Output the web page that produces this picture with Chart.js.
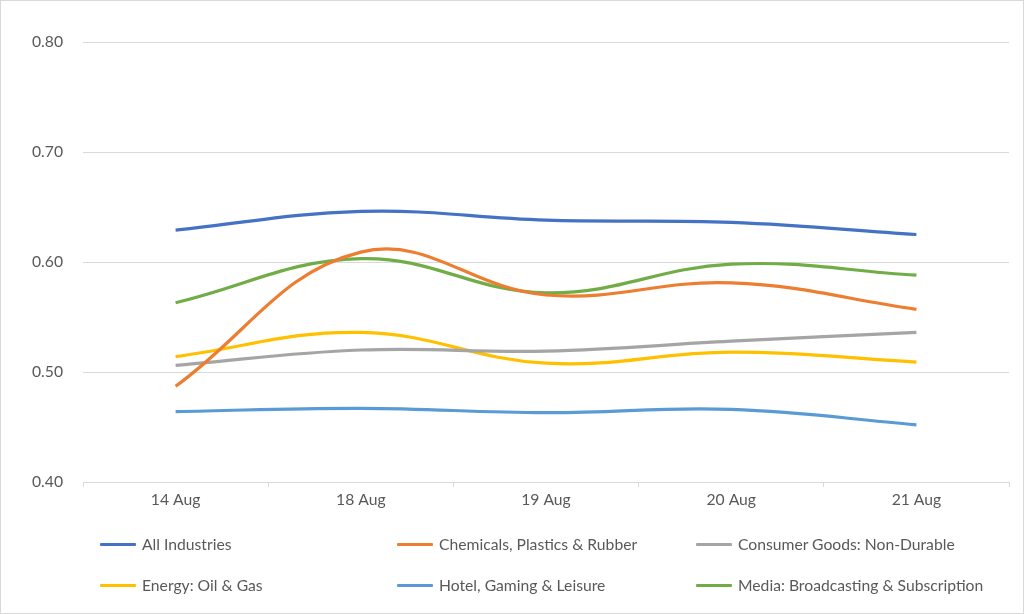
<!DOCTYPE html>
<html>
<head>
<meta charset="utf-8">
<script src="https://cdn.jsdelivr.net/npm/chart.js@4"></script>
<style>
  body { margin: 0; background: #fff; }
  #wrap { position: relative; width: 1022px; height: 612px; border: 1px solid #d9d9d9; font-family: Lato, sans-serif; }
  #box { position: absolute; left: 0; top: 0; width: 1022px; height: 520px; }
  #legend { position: absolute; left: 0; top: 0; width: 1022px; height: 612px; pointer-events: none; }
  .item { position: absolute; display: flex; align-items: center; font-size: 15.7px; color: #595959; white-space: nowrap; transform: translateY(-50%); }
  .item span.mark { display: inline-block; width: 36px; height: 3px; margin-right: 6px; border-radius: 1px; }
</style>
</head>
<body>
<div id="wrap">
  <div id="box"><canvas id="myChart"></canvas></div>
  <div id="legend"></div>
</div>
<script>
    var labels = ['14 Aug', '18 Aug', '19 Aug', '20 Aug', '21 Aug'];
    var allIndustries = [0.629, 0.646, 0.638, 0.636, 0.625];
    var chemicals = [0.487, 0.609, 0.570, 0.581, 0.557];
    var consumerGoods = [0.506, 0.520, 0.519, 0.528, 0.536];
    var energy = [0.514, 0.536, 0.508, 0.518, 0.509];
    var hotel = [0.464, 0.467, 0.463, 0.466, 0.452];
    var media = [0.563, 0.603, 0.572, 0.598, 0.588];
    var yTicks = [0.40, 0.50, 0.60, 0.70, 0.80];

    function line(label, data, color) {
        return {
            label: label,
            data: data,
            borderColor: color,
            backgroundColor: color,
            borderWidth: 3.2,
            pointRadius: 0,
            tension: 0.4,
            fill: false
        };
    }

    var ctx = document.getElementById('myChart').getContext('2d');
    var chart = new Chart(ctx, {
        type: 'line',
        data: {
            labels: labels,
            datasets: [
                line('All Industries', allIndustries, '#4472C4'),
                line('Chemicals, Plastics & Rubber', chemicals, '#ED7D31'),
                line('Consumer Goods: Non-Durable', consumerGoods, '#A5A5A5'),
                line('Energy: Oil & Gas', energy, '#FFC000'),
                line('Hotel, Gaming & Leisure', hotel, '#5B9BD5'),
                line('Media: Broadcasting & Subscription', media, '#70AD47')
            ]
        },
        options: {
            responsive: true,
            maintainAspectRatio: false,
            animation: false,
            layout: { padding: { top: 41, right: 14, bottom: 0, left: 0 } },
            plugins: {
                legend: { display: false },
                tooltip: { enabled: false }
            },
            scales: {
                x: {
                    offset: true,
                    grid: { offset: true, drawOnChartArea: false, drawTicks: true, tickLength: 5, color: '#d9d9d9' },
                    border: { color: '#d9d9d9' },
                    ticks: { color: '#595959', font: { family: 'Lato', size: 15.7 }, padding: 4, maxRotation: 0 },
                    afterFit: function (s) { s.height = 39; }
                },
                y: {
                    min: 0.4,
                    max: 0.8,
                    afterBuildTicks: function (s) { s.ticks = yTicks.map(function (v) { return { value: v }; }); },
                    grid: { color: '#d9d9d9', drawTicks: false },
                    border: { display: false },
                    ticks: {
                        color: '#595959',
                        font: { family: 'Lato', size: 15.7 },
                        padding: 20,
                        callback: function (v) { return Number(v).toFixed(2); }
                    },
                    afterFit: function (s) { s.width = 82; }
                }
            }
        }
    });

    // legend laid out in three columns like the original
    var colX = [99, 396, 695];
    var rowY = [543, 584];
    var leg = document.getElementById('legend');
    chart.data.datasets.forEach(function (ds, i) {
        var d = document.createElement('div');
        d.className = 'item';
        d.style.left = colX[i % 3] + 'px';
        d.style.top = rowY[Math.floor(i / 3)] + 'px';
        var m = document.createElement('span');
        m.className = 'mark';
        m.style.background = ds.borderColor;
        d.appendChild(m);
        d.appendChild(document.createTextNode(ds.label));
        leg.appendChild(d);
    });
</script>
</body>
</html>
